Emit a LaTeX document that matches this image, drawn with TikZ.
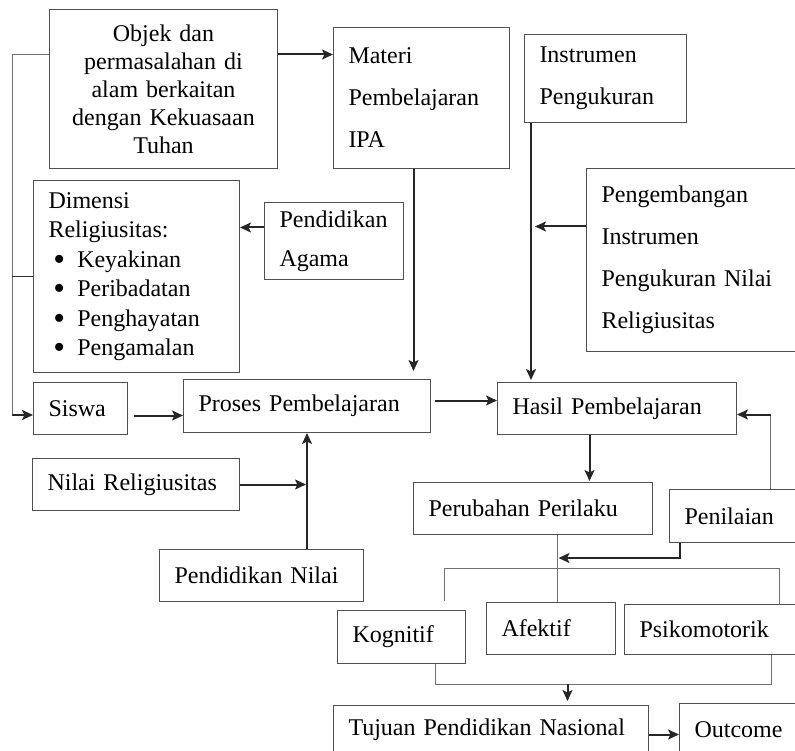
\documentclass[tikz,border=0pt]{standalone}
\usepackage{fontspec}
\setmainfont{Liberation Serif}
\usetikzlibrary{arrows.meta}

\definecolor{boxgray}{HTML}{505050}
\definecolor{linegray}{HTML}{707070}
\newcommand{\bigdot}{\hspace*{5pt}\raisebox{-3pt}[0pt][0pt]{\scalebox{1.4}{\textbullet}}\hspace{12pt}}

\begin{document}
\begin{tikzpicture}[
    x=1pt, y=-1pt,
    font=\fontsize{24}{28}\selectfont,
    box/.style={draw=boxgray, line width=1pt, anchor=north west, inner xsep=15pt, inner ysep=0pt, align=left, text=black},
    wide/.style={font=\fontsize{24}{42}\selectfont},
    arr/.style={-{Stealth[length=11pt, width=10pt, inset=2.5pt]}, line width=2pt, draw=black!85},
    thinline/.style={line width=1pt, draw=linegray},
    midline/.style={line width=1.5pt, draw=black!80}
]
\useasboundingbox (0,0) rectangle (795,751);
\clip (0,0) rectangle (795,751);

\node[box, align=center, text width=198pt, minimum height=159pt] (objek) at (49,9) {Objek dan\\permasalahan di\\alam berkaitan\\dengan Kekuasaan\\Tuhan};
\node[box, wide, text width=146pt, minimum height=141pt] (materi) at (333,27) {Materi\\Pembelajaran\\IPA};
\node[box, wide, text width=132pt, minimum height=88pt] (instr) at (524,34) {Instrumen\\Pengukuran};
\node[box, wide, text width=184pt, minimum height=183pt] (pengemb) at (586,168) {Pengembangan\\Instrumen\\Pengukuran Nilai\\Religiusitas\\[-8pt]};
\node[box, font=\fontsize{24}{29.5}\selectfont, text width=176pt, minimum height=192pt] (dimensi) at (33,180) {Dimensi\\Religiusitas:\\
  \bigdot Keyakinan\\
  \bigdot Peribadatan\\
  \bigdot Penghayatan\\
  \bigdot Pengamalan};
\node[box, font=\fontsize{24}{39}\selectfont, text width=109pt, minimum height=77pt] (agama) at (264,202) {Pendidikan\\Agama};
\node[box, text width=64pt, minimum height=52pt] (siswa) at (33,382) {Siswa};
\node[box, text width=217pt, minimum height=53pt] (proses) at (183,379) {Proses Pembelajaran};
\node[box, text width=209pt, minimum height=52pt] (hasil) at (497,382) {Hasil Pembelajaran};
\node[box, text width=177pt, minimum height=52pt] (nilai) at (32,458) {Nilai Religiusitas};
\node[box, text width=174pt, minimum height=52pt] (pnilai) at (159,549) {Pendidikan Nilai};
\node[box, text width=209pt, minimum height=52pt] (perubahan) at (413,482) {Perubahan Perilaku};
\node[box, text width=101pt, minimum height=53pt] (penilaian) at (669,489) {Penilaian};
\node[box, text width=98pt, minimum height=53pt] (kognitif) at (337,610) {Kognitif};
\node[box, text width=99pt, minimum height=52pt] (afektif) at (486,602) {Afektif\\[-8pt]};
\node[box, text width=146pt, minimum height=50pt] (psiko) at (624,604) {Psikomotorik};
\node[box, text width=285pt, minimum height=48pt] (tujuan) at (333,705) {Tujuan Pendidikan Nasional};
\node[box, text width=91pt, minimum height=52pt] (outcome) at (679,703) {Outcome};

\coordinate (objout) at ([yshift=34.5pt]objek.west);
\coordinate (oright) at ([yshift=34.5pt]objek.east);
\coordinate (busbot) at (12,415);
\draw[thinline] (objout) -| (busbot);
\draw[midline] (dimensi.west) -- (dimensi.west -| busbot);
\draw[arr] (busbot) -- (busbot -| siswa.west);
\draw[arr] (oright) -- (oright -| materi.west);

\coordinate (aout) at ([yshift=13.5pt]agama.west);
\draw[arr] (aout) -- (aout -| dimensi.east);

\coordinate (mout) at ([xshift=-8pt]materi.south);
\draw[arr, shorten >=8pt] (mout) -- (mout |- proses.north);

\coordinate (iout) at ([xshift=7pt]instr.south west);
\draw[arr, shorten >=2pt] (iout) -- (iout |- hasil.north);
\coordinate (pgout) at ([yshift=33.5pt]pengemb.west);
\draw[arr, shorten >=4pt] (pgout) -- (pgout -| iout);

\coordinate (sout) at ([yshift=-7pt]siswa.east);
\draw[arr, shorten <=6pt] (sout) -- (sout -| proses.west);
\coordinate (pout) at ([yshift=5.5pt]proses.east);
\draw[arr, shorten <=4pt] (pout) -- (pout -| hasil.west);

\draw[arr, shorten >=1pt] (nilai.east) -- (nilai.east -| proses.south);
\draw[arr] (pnilai.north -| proses.south) -- (proses.south);

\coordinate (hout) at ([xshift=-27.5pt]hasil.south);
\draw[arr, shorten >=1pt] (hout) -- (hout |- perubahan.north);

\coordinate (pnup) at ([xshift=35.5pt]penilaian.north);
\coordinate (hin) at ([yshift=-6pt]hasil.east);
\draw[thinline] (pnup) -- (pnup |- hin);
\draw[arr] (pnup |- hin) -- (hin);

\coordinate (pndown) at ([xshift=11pt]penilaian.south west);
\coordinate (pjoin) at ([yshift=-15pt]pndown);
\coordinate (pvert) at ([xshift=24.5pt]perubahan.south);
\draw[arr, shorten >=1pt] (pndown) -- (pjoin) -- (pjoin -| pvert);
\draw[thinline] (pvert) -- (pvert |- afektif.north);

\coordinate (brl) at ([xshift=43pt]kognitif.north);
\coordinate (bry) at ([yshift=42pt]brl);
\coordinate (brr) at ([xshift=67pt]psiko.north);
\draw[thinline, shorten <=9pt] (brl) -- (bry) -| (brr);

\coordinate (kb) at ([xshift=34pt]kognitif.south);
\coordinate (pb) at ([xshift=59pt]psiko.south);
\coordinate (bby) at ([yshift=-20pt]kb);
\draw[thinline] (kb) -- (bby) -| (pb);
\coordinate (tin) at ([xshift=76.5pt]tujuan.north);
\draw[arr, shorten >=4pt] (tin |- bby) -- (tin);

\coordinate (tout) at ([yshift=-5pt]tujuan.east);
\draw[arr] (tout) -- (tout -| outcome.west);
\end{tikzpicture}
\end{document}
